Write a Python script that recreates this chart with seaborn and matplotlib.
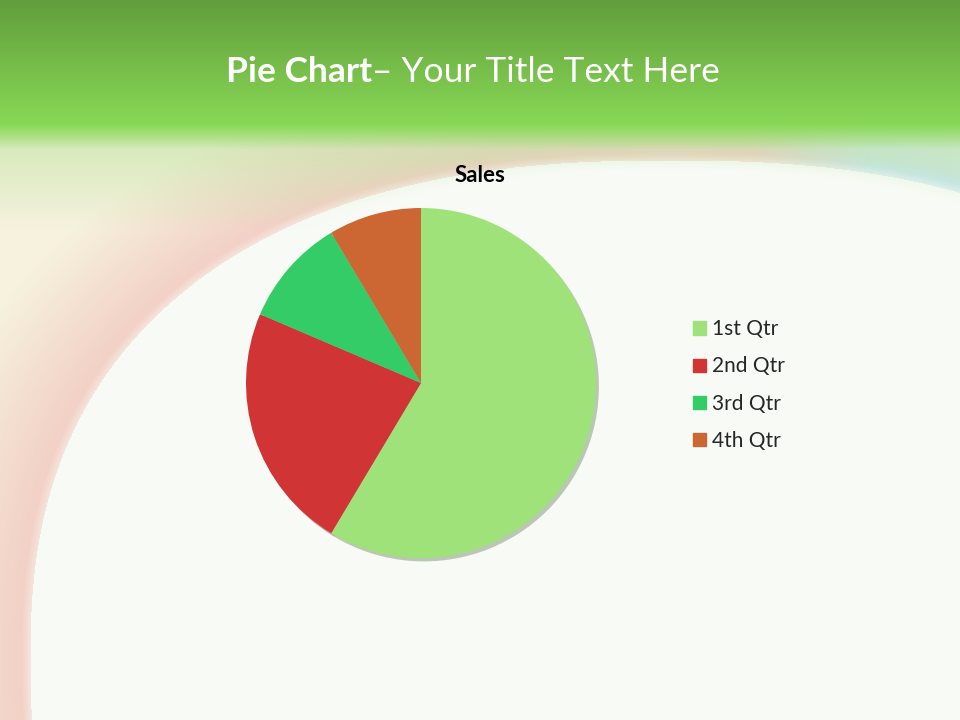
import numpy as np
import matplotlib
matplotlib.use("Agg")
import matplotlib.pyplot as plt
import matplotlib.patches as mpatches
import seaborn as sns

# chart data
categories = ["1st Qtr", "2nd Qtr", "3rd Qtr", "4th Qtr"]
sales = [8.2, 3.2, 1.4, 1.2]
chart_title = "Sales"
slide_title_bold = "Pie Chart"
slide_title_rest = "\u2013 Your Title Text Here"

sns.set_style("white")
plt.rcParams["font.family"] = ["Lato", "DejaVu Sans"]
colors = sns.color_palette(["#a0e27a", "#d03434", "#33cc66", "#cc6633"])

W, H = 960, 720
fig = plt.figure(figsize=(W / 100, H / 100), dpi=100)

# slide background (decoration)
yy, xx = np.mgrid[0:H, 0:W].astype(float)
p = 2.4
d = (np.abs((xx - 670) / 640) ** p + np.abs((yy - 660) / 500) ** p) ** (1 / p)
white = np.array([248, 251, 245]) / 255
pink = np.array([242, 206, 196]) / 255
cream = np.array([246, 242, 222]) / 255
blue = np.array([200, 230, 242]) / 255
t_out = np.clip((d - 1.0) / 0.2, 0, 1)[..., None]
side = np.clip((xx - 750) / 120, 0, 1)[..., None]
ring = pink * (1 - side) + blue * side
outside = ring * (1 - t_out) + cream * t_out
img = np.where((d < 1)[..., None], white, outside)
edge = np.clip((d - 0.985) / 0.03, 0, 1)[..., None]
img = white * (1 - edge) + img * edge
# green tint fading below the header
g_light = np.array([180, 225, 150]) / 255
tint = np.clip((230 - yy) / 100, 0, 1)[..., None] * 0.55 * np.clip((d - 0.98) / 0.05, 0, 1)[..., None]
img = img * (1 - tint) + g_light * tint
# header band
top = np.array([98, 158, 60]) / 255
bot = np.array([136, 216, 86]) / 255
ty = np.clip(yy / 124, 0, 1)[..., None]
band = top * (1 - ty) + bot * ty
fade = np.clip((yy - 124) / 25, 0, 1)[..., None]
img = band * (1 - fade) + img * fade

bg = fig.add_axes([0, 0, 1, 1])
bg.imshow(img, extent=(0, W, H, 0), aspect="auto", interpolation="bilinear")
bg.set_xlim(0, W)
bg.set_ylim(H, 0)
bg.axis("off")

t1 = bg.text(226, 82, slide_title_bold, color="white", fontsize=25.5,
             fontweight="bold", va="baseline", ha="left")
fig.canvas.draw()
ext = t1.get_window_extent()
x_end = bg.transData.inverted().transform((ext.x1, ext.y0))[0]
bg.text(x_end, 82, slide_title_rest, color="white", fontsize=25.5,
        va="baseline", ha="left")
bg.text(480, 175, chart_title, fontsize=16, fontweight="bold",
        color="black", ha="center", va="center")

# pie
cx, cy, r = 421, 383, 175
ax = fig.add_axes([(cx - r) / W, (H - cy - r) / H, 2 * r / W, 2 * r / H])
wedges, _ = ax.pie(sales, colors=colors, startangle=90, counterclock=False,
                   wedgeprops=dict(linewidth=0),
                   shadow={"ox": 0.012, "oy": -0.014, "shade": 0.55, "alpha": 0.35})
for art in ax.patches:
    art.set_clip_on(False)
ax.set_xlim(-1, 1)
ax.set_ylim(-1, 1)
ax.set_aspect("equal")
ax.axis("off")

handles = [mpatches.Patch(color=c, label=l) for c, l in zip(colors, categories)]
fig.legend(handles=handles, loc="upper left", bbox_to_anchor=(683 / W, 1 - 309 / H),
           frameon=False, fontsize=15, handlelength=0.6, handleheight=0.6,
           handletextpad=0.3, labelspacing=0.82, borderpad=0)

fig.savefig("out.png", dpi=100)
